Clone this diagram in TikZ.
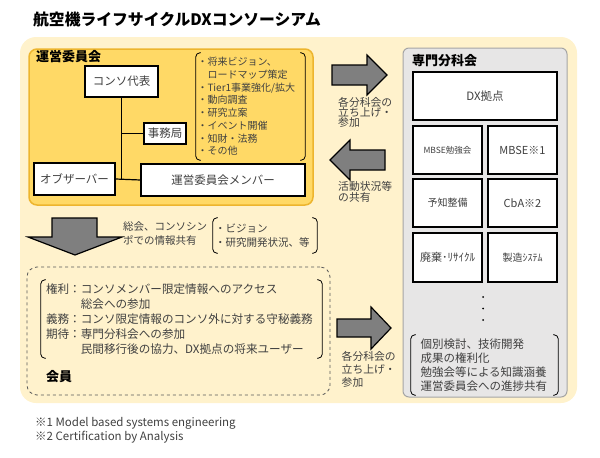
\documentclass[tikz,border=0pt]{standalone}
\usepackage{fontspec}
\setmainfont{Noto Sans CJK JP}
\definecolor{bgyellow}{HTML}{FFF2CC}
\definecolor{gold}{HTML}{FFD966}
\definecolor{goldborder}{HTML}{EDB52E}
\definecolor{grayfill}{HTML}{E7E6E6}
\definecolor{grayborder}{HTML}{A5A5A5}
\definecolor{arrowgray}{HTML}{7F7F7F}
\definecolor{txtgray}{HTML}{404040}
\definecolor{dashgray}{HTML}{595959}
\newcommand\fs[2]{\fontsize{#1}{#2}\selectfont}
\newcommand\brk[1]{%
  \draw[brkline] ([xshift=5pt]#1.north west) -- (#1.north west) -- (#1.south west) -- ([xshift=5pt]#1.south west);
  \draw[brkline] ([xshift=-5pt]#1.north east) -- (#1.north east) -- (#1.south east) -- ([xshift=-5pt]#1.south east);}
\begin{document}
\begin{tikzpicture}[x=1pt,y=-1pt,
  whitebox/.style={draw=black, line width=1.3pt, fill=white, text=txtgray, inner sep=0pt, font=\fs{11.5}{13}},
  cell/.style={whitebox, minimum width=69pt, minimum height=48pt},
  heading/.style={anchor=west, inner sep=0pt, font=\fs{13}{15}\bfseries, text=black},
  lbl/.style={anchor=north west, inner sep=0pt, align=left, text=txtgray},
  brkline/.style={draw=black, line width=0.8pt, rounded corners=4pt},
  brknode/.style={align=left, text=txtgray, inner ysep=0pt},
  bigarrow/.style={fill=arrowgray, draw=black, line width=1.2pt, line join=miter},
  treeline/.style={draw=black, line width=1.2pt},
  dotn/.style={circle, fill=black, inner sep=0pt, minimum size=2pt}]
\useasboundingbox (0,0) rectangle (600,458);

% title
\node[anchor=west, inner sep=0pt, font=\fs{15.8}{18}\bfseries] (title) at (33,20) {航空機ライフサイクルDXコンソーシアム};

% background
\node[fill=bgyellow, rounded corners=16pt, minimum width=557pt, minimum height=366pt, inner sep=0pt] (bg) at (298.5,220) {};

% operations committee
\node[fill=gold, draw=goldborder, line width=1.5pt, rounded corners=8pt, minimum width=284pt, minimum height=156pt, inner sep=0pt] (ops) at (171,127) {};
\node[heading] (opsl) at (36,57) {運営委員会};
\node[whitebox, minimum width=73pt, minimum height=31pt] (rep) at (121.5,81.5) {コンソ代表};
\node[whitebox, minimum width=42pt, minimum height=21pt] (jimu) at (165,133.5) {事務局};
\node[whitebox, minimum width=81pt, minimum height=32pt] (obs) at (74.5,179) {オブザーバー};
\node[whitebox, minimum width=164pt, minimum height=32pt] (mem) at (223,180) {運営委員会メンバー};
\draw[treeline] (rep.south) -- (rep.south |- obs.east);
\draw[treeline] (rep.south |- jimu.west) -- (jimu.west);
\draw[treeline] (obs.east) -- (mem.west);

\node[brknode, font=\fs{10}{12.7}, text width=106pt, inner xsep=1.5pt, minimum height=107pt] (lst) at (250.5,106.5)
 {・将来ビジョン、\\\hspace*{1em}ロードマップ策定\\・Tier1事業強化/拡大\\・動向調査\\・研究立案\\・イベント開催\\・知財・法務\\・その他};
\brk{lst}

% specialist subcommittees
\node[fill=grayfill, draw=grayborder, line width=1pt, rounded corners=6pt, minimum width=164pt, minimum height=349pt, inner sep=0pt] (sub) at (485,222.5) {};
\node[heading] (subl) at (412,61) {専門分科会};
\node[whitebox, minimum width=144pt, minimum height=48pt] (dx) at (485,96) {DX拠点};
\node[cell, font=\fs{8.5}{10}] (c11) at (447.5,150) {MBSE勉強会};
\node[cell, font=\fs{11}{13}] (c12) at (522.5,150) {MBSE※1};
\node[cell, font=\fs{10}{12}] (c21) at (447.5,203) {予知整備};
\node[cell, font=\fs{11}{13}] (c22) at (522.5,203) {CbA※2};
\node[cell, font=\fs{11}{13}, minimum height=49pt] (c31) at (447.5,257.5) {廃棄･ﾘｻｲｸﾙ};
\node[cell, font=\fs{10}{12}, minimum height=49pt] (c32) at (522.5,257.5) {製造ｼｽﾃﾑ};
\node[dotn] (d1) at (483,297) {};
\node[dotn] (d2) at (483,308.5) {};
\node[dotn] (d3) at (483,320) {};
\node[brknode, font=\fs{11.5}{14}, text width=128pt, inner xsep=9.5pt, minimum height=60pt] (subl2) at (484.5,365)
 {個別検討、技術開発\\成果の権利化\\勉強会等による知識涵養\\運営委員会への進捗共有};
\brk{subl2}

% arrows between committees
\filldraw[bigarrow] (332,65) -- (367,65) -- (367,55) -- (387,75) -- (367,95) -- (367,85) -- (332,85) -- cycle;
\node[lbl, font=\fs{10.8}{10}] (a1l) at (338,97.5) {各分科会の\\立ち上げ・\\参加};
\filldraw[bigarrow] (385,150) -- (350,150) -- (350,140) -- (330,160) -- (350,180) -- (350,170) -- (385,170) -- cycle;
\node[lbl, font=\fs{10.8}{10.5}] (a2l) at (338,181.5) {活動状況等\\の共有};

% down arrow
\filldraw[bigarrow] (52,218) -- (97,218) -- (97,237) -- (122,237) -- (75,255) -- (28,237) -- (52,237) -- cycle;
\node[lbl, font=\fs{10.5}{14}] (dl) at (123,221.5) {総会、コンソシン\\ポでの情報共有};
\node[brknode, font=\fs{10.5}{14}, text width=100pt, inner xsep=2pt, minimum height=35pt] (info) at (265,235.5)
 {・ビジョン\\・研究開発状況、等};
\brk{info}

% members
\node[draw=dashgray, dashed, line width=0.8pt, rounded corners=10pt, minimum width=303pt, minimum height=128pt, inner sep=0pt] (memb) at (178.5,331) {};
\node[brknode, font=\fs{11.6}{15.2}, text width=271pt, inner xsep=5pt, minimum height=78pt] (mlist) at (181.5,319)
 {権利：コンソメンバー限定情報へのアクセス\\\hspace*{3em}総会への参加\\義務：コンソ限定情報のコンソ外に対する守秘義務\\期待：専門分科会への参加\\\hspace*{3em}民間移行後の協力、DX拠点の将来ユーザー};
\brk{mlist}
\node[heading] (membl) at (46,377) {会員};

\filldraw[bigarrow] (337,319) -- (371,319) -- (371,307) -- (391,328) -- (371,349) -- (371,337) -- (337,337) -- cycle;
\node[lbl, font=\fs{10.8}{13}] (a3l) at (341.5,351) {各分科会の\\立ち上げ・\\参加};

% footnotes
\node[lbl, font=\fs{11.5}{14}] (fn) at (35,417) {※1 Model based systems engineering\\※2 Certification by Analysis};
\end{tikzpicture}
\end{document}
